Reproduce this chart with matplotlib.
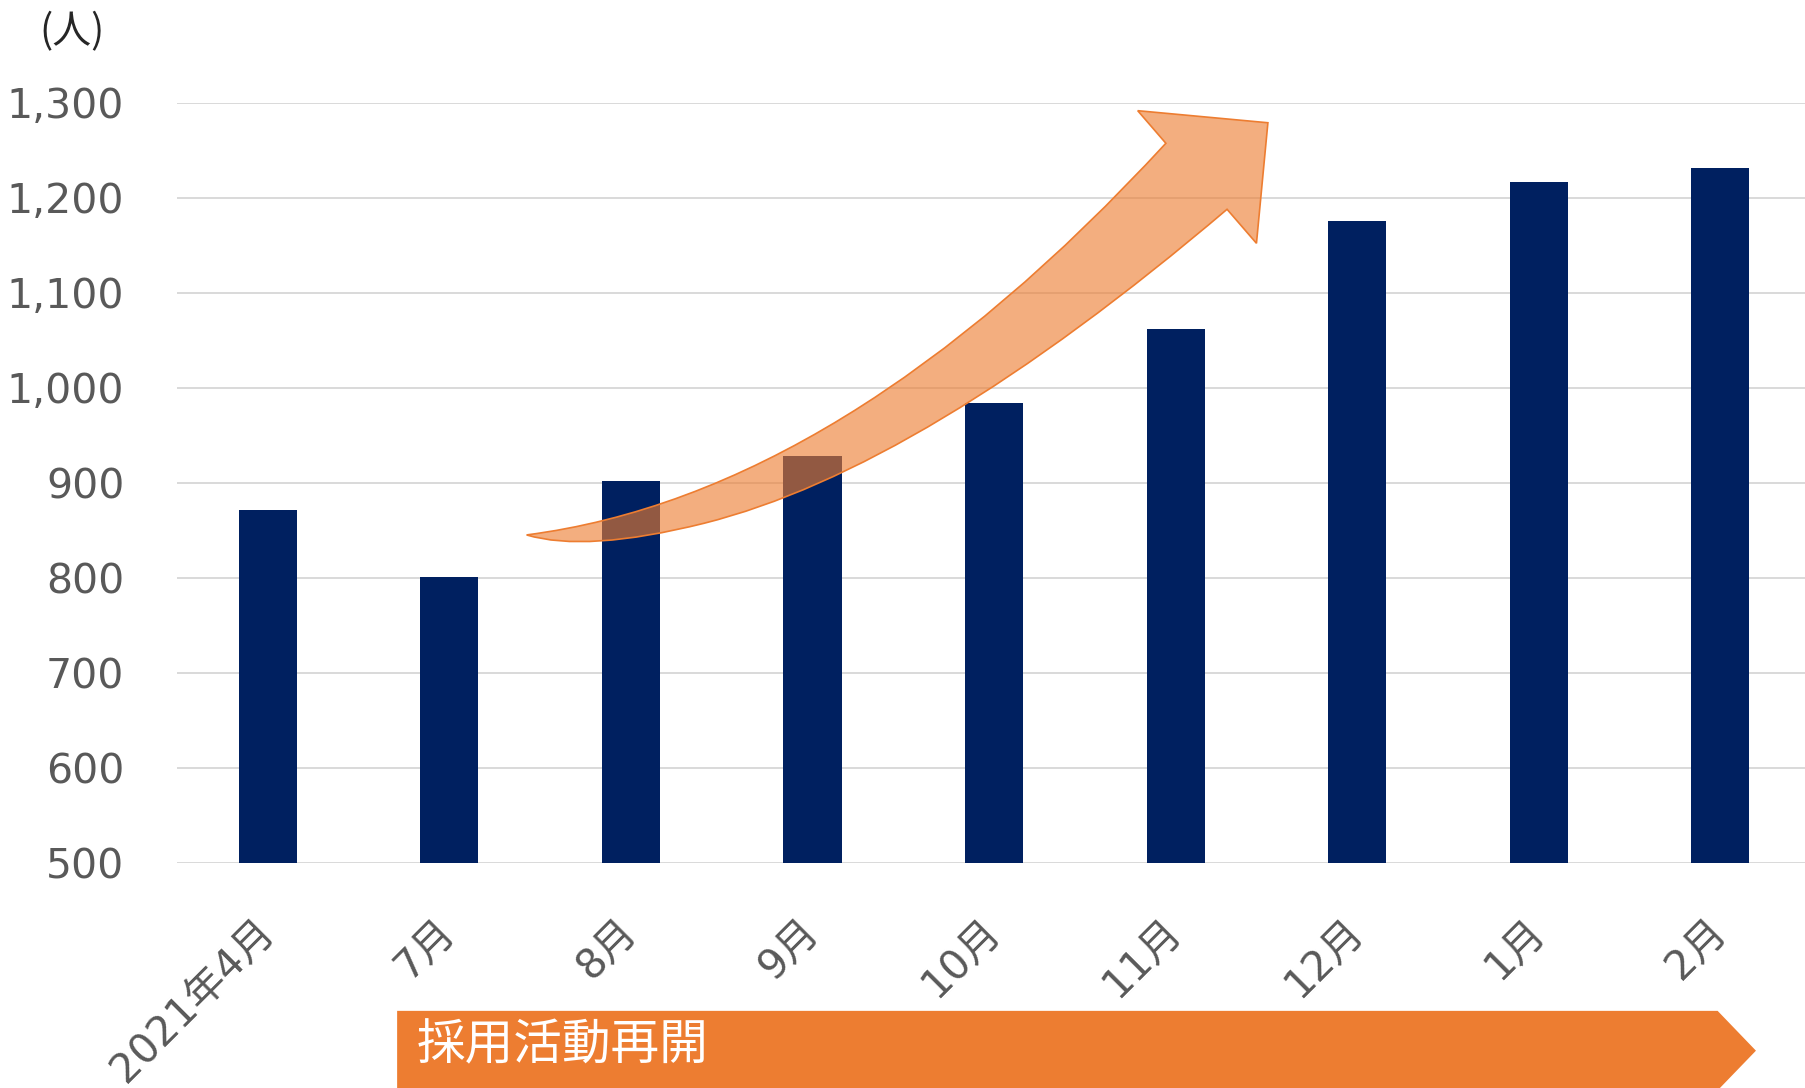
import matplotlib
matplotlib.use("Agg")
import matplotlib.pyplot as plt
import matplotlib.transforms as mtransforms
from matplotlib.path import Path
from matplotlib.patches import PathPatch, Polygon
from matplotlib.ticker import FuncFormatter

plt.rcParams['font.family'] = ['DejaVu Sans', 'Noto Sans CJK JP']

# data
months = ['2021年4月', '7月', '8月', '9月', '10月', '11月', '12月', '1月', '2月']
staff = [871, 801, 902, 928, 984, 1062, 1176, 1217, 1231]
y_ticks = [500, 600, 700, 800, 900, 1000, 1100, 1200, 1300]
unit_label = '(人)'
banner_label = '採用活動再開'

navy = '#002060'
orange = '#ED7D31'
grey = '#595959'

fig = plt.figure(figsize=(18.05, 10.88), dpi=100)
ax = fig.add_axes([0.0981, 0.2071, 0.9053, 0.6985])

x = list(range(len(months)))
ax.bar(x, staff, width=0.32, color=navy, zorder=2)

ax.set_yticks(y_ticks)
ax.yaxis.set_major_formatter(FuncFormatter(lambda v, p: f'{int(v):,}'))
ax.grid(axis='y', color='#D9D9D9', lw=1.4, zorder=0)
ax.set_axisbelow(True)
for s in ax.spines.values():
    s.set_visible(False)
ax.tick_params(axis='y', length=0, pad=38, labelsize=29.5, labelcolor=grey)
for lab in ax.get_yticklabels():
    lab.set_va('center_baseline')
ax.set_xticks(x)
ax.set_xticklabels(months, rotation=45, ha='right', va='center', rotation_mode='anchor')
ax.tick_params(axis='x', length=0, pad=45, labelsize=29.5, labelcolor=grey)

# curved "growth" arrow, outline in data coordinates
verts = [
    (1.425, 845.0),
    (3.168, 887.9), (4.946, 1257.3),
    (4.791, 1291.6),
    (5.508, 1278.9),
    (5.445, 1152.0),
    (5.283, 1187.8),
    (3.601, 914.5), (2.403, 857.3),
    (1.752, 826.2), (1.425, 845.0),
    (1.425, 845.0),
]
codes = [Path.MOVETO,
         Path.CURVE3, Path.CURVE3,
         Path.LINETO, Path.LINETO, Path.LINETO, Path.LINETO,
         Path.CURVE3, Path.CURVE3,
         Path.CURVE3, Path.CURVE3,
         Path.CLOSEPOLY]
arrow = PathPatch(Path(verts, codes), facecolor=(0.929, 0.490, 0.192, 0.62),
                  edgecolor=orange, lw=1.2, zorder=5, clip_on=False, joinstyle='miter')
ax.add_patch(arrow)

# banner arrow under the axis
blend = mtransforms.blended_transform_factory(ax.transData, ax.transAxes)
banner = Polygon([(0.712, -0.195), (7.985, -0.195), (8.196, -0.2474),
                  (7.985, -0.2996), (0.712, -0.2996)],
                 closed=True, facecolor=orange, edgecolor='none',
                 transform=blend, clip_on=False, zorder=5)
ax.add_patch(banner)
ax.text(0.818, -0.2405, banner_label, transform=blend, color='white',
        fontsize=35, ha='left', va='center', family=['Noto Sans CJK JP'], zorder=6)

fig.text(0.0399, 0.9706, unit_label, ha='center', va='center', fontsize=28,
         color='#262626', family=['Noto Sans CJK JP'])

ax.set_xlim(-0.5, 8.5)
ax.set_ylim(500, 1300)

fig.savefig('out.png', dpi=100)
